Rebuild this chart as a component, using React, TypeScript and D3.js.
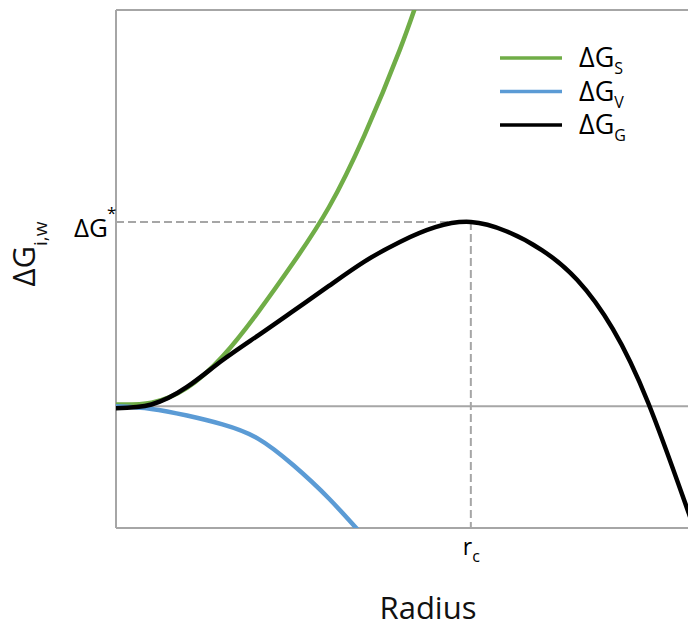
import React from "react";
import * as d3 from "d3";

// Radius (arbitrary units; r_c = 5) and free-energy values (ΔG* = 1)
const surfaceR = [0, 0.5, 1.0, 1.5, 2.0, 2.5, 3.0, 3.5, 4.0, 4.3];
const surfaceG = [0.01, 0.02, 0.1, 0.27, 0.51, 0.78, 1.08, 1.47, 1.935, 2.26];

const volumeR = [0, 0.5, 1.0, 1.5, 2.0, 2.5, 3.0, 3.5];
const volumeG = [0, -0.014, -0.05, -0.098, -0.175, -0.32, -0.5, -0.71];

const totalR = [0, 0.5, 1.0, 1.5, 2.0, 2.5, 3.0, 3.5, 4.0, 4.5, 5.0, 5.5, 6.0, 6.5, 7.0, 7.5, 8.0, 8.2];
const totalG = [-0.01, 0.01, 0.105, 0.25, 0.384, 0.518, 0.653, 0.785, 0.892, 0.972, 1.0, 0.95, 0.848, 0.685, 0.42, 0.018, -0.503, -0.72];

const criticalRadius = 5.0;
const barrier = 1.0;
const xMax = 8.06;
const yMin = -0.66;
const yMax = 2.15;

const legendItems = [
  { main: "ΔG", sub: "S", color: "#70AD47" },
  { main: "ΔG", sub: "V", color: "#5B9BD5" },
  { main: "ΔG", sub: "G", color: "#000000" },
];

const FONT = "'Open Sans', 'DejaVu Sans', sans-serif";

export default function App() {
  const W = 688;
  const H = 628;
  const left = 116;
  const right = 688;
  const top = 10;
  const bottom = 528;

  const x = d3.scaleLinear().domain([0, xMax]).range([left, right]);
  const y = d3.scaleLinear().domain([yMin, yMax]).range([bottom, top]);

  const line = d3
    .line<[number, number]>()
    .x((d) => x(d[0]))
    .y((d) => y(d[1]))
    .curve(d3.curveNatural);

  const zip = (a: number[], b: number[]) => a.map((v, i) => [v, b[i]] as [number, number]);

  const series = [
    { pts: zip(surfaceR, surfaceG), color: legendItems[0].color },
    { pts: zip(volumeR, volumeG), color: legendItems[1].color },
    { pts: zip(totalR, totalG), color: legendItems[2].color },
  ];

  const gray = "#A6A6A6";
  const xc = x(criticalRadius);
  const yb = y(barrier);
  const y0 = y(0);

  return (
    <svg
      width={W}
      height={H}
      style={{ position: "absolute", left: 0, top: 0, background: "#fff" }}
      fontFamily={FONT}
    >
      <defs>
        <clipPath id="plotClip">
          <rect x={left} y={top} width={right - left} height={bottom - top} />
        </clipPath>
      </defs>
      <rect width={W} height={H} fill="#fff" />

      {/* plot border */}
      <line x1={left} y1={top} x2={right} y2={top} stroke={gray} strokeWidth={2} />
      <line x1={left} y1={top} x2={left} y2={bottom} stroke={gray} strokeWidth={2} />
      <line x1={left} y1={bottom} x2={right} y2={bottom} stroke={gray} strokeWidth={2} />
      {/* zero line */}
      <line x1={left} y1={y0} x2={right} y2={y0} stroke={gray} strokeWidth={2} />

      {/* dashed guides */}
      <line x1={left} y1={yb} x2={xc} y2={yb} stroke={gray} strokeWidth={2} strokeDasharray="8,4" />
      <line x1={xc} y1={yb} x2={xc} y2={bottom} stroke={gray} strokeWidth={2} strokeDasharray="8,4" />

      <g clipPath="url(#plotClip)">
        {series.map((s, i) => (
          <path
            key={i}
            d={line(s.pts) || ""}
            fill="none"
            stroke={s.color}
            strokeWidth={4.5}
            strokeLinecap="butt"
            strokeLinejoin="round"
          />
        ))}
      </g>

      {/* ΔG* label */}
      <text x={left - 8} y={yb + 15} textAnchor="end" fontSize={26} fill="#000">
        ΔG
      </text>
      <text x={left - 9} y={yb - 3} fontSize={17} fill="#000">
        *
      </text>

      {/* r_c label */}
      <text x={xc - 8} y={555} fontSize={23} fill="#000">
        r
        <tspan fontSize={16} dy={7}>
          c
        </tspan>
      </text>

      {/* x-axis title */}
      <text x={428} y={619} textAnchor="middle" fontSize={31} fill="#111">
        Radius
      </text>

      {/* y-axis title */}
      <text
        transform={`translate(35, 254) rotate(-90)`}
        textAnchor="middle"
        fontSize={31}
        fill="#111"
      >
        ΔG
        <tspan fontSize={19} dy={12}>
          i,w
        </tspan>
      </text>

      {/* legend */}
      {legendItems.map((it, i) => {
        const ly = 58 + i * 33.5;
        return (
          <g key={i}>
            <line x1={500} y1={ly} x2={562} y2={ly} stroke={it.color} strokeWidth={3.5} />
            <text x={579} y={ly + 9} fontSize={27} fill="#000">
              {it.main}
              <tspan fontSize={16} dy={7}>
                {it.sub}
              </tspan>
            </text>
          </g>
        );
      })}
    </svg>
  );
}
